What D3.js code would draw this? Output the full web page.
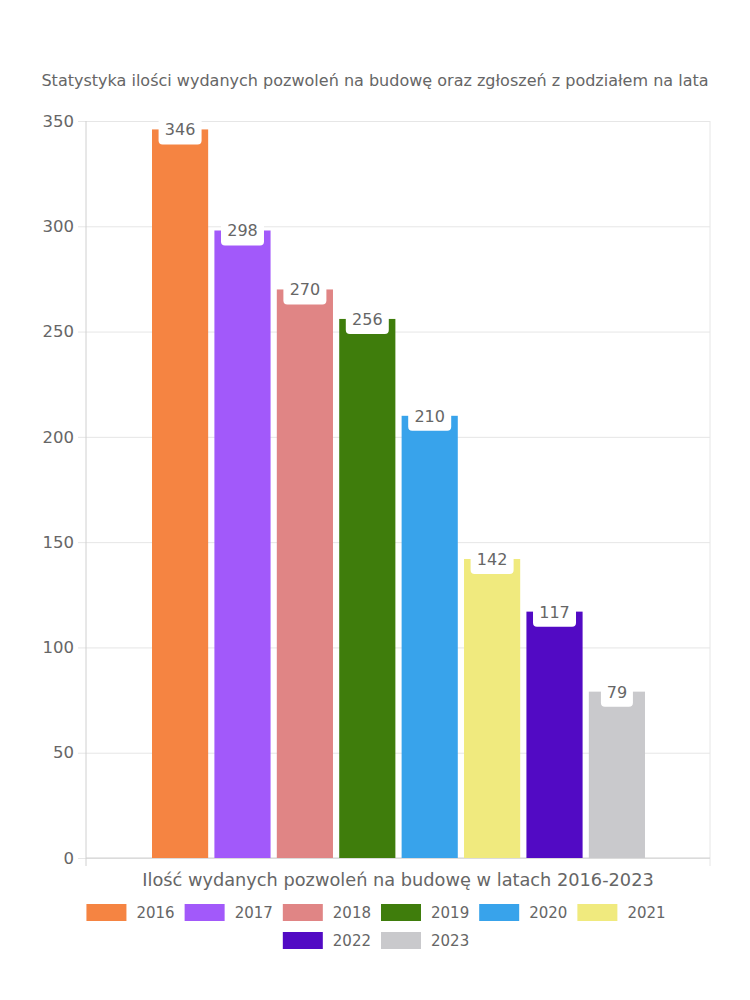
<!DOCTYPE html>
<html><head><meta charset="utf-8">
<script src="https://cdn.jsdelivr.net/npm/d3@7"></script>
<style>body{margin:0;background:#fff}svg{display:block}</style>
</head><body>
<svg id="c" width="750" height="1000"></svg>
<script>
const title = "Statystyka ilości wydanych pozwoleń na budowę oraz zgłoszeń z podziałem na lata";
const xTitle = "Ilość wydanych pozwoleń na budowę w latach 2016-2023";
const years = ["2016","2017","2018","2019","2020","2021","2022","2023"];
const values = [346, 298, 270, 256, 210, 142, 117, 79];
const colors = ["#F58442","#A259FA","#E08585","#3F7D0C","#38A3EB","#F0EA7E","#520AC4","#C9C9CC"];
const yTicks = [0,50,100,150,200,250,300,350];

const FONT = "'DejaVu Sans', sans-serif";
const TXT = "#666";
const svg = d3.select("#c");
const m = {l:86, r:710, t:121, b:858};

const y = d3.scaleLinear().domain([0,350]).range([m.b, m.t]);
const x = d3.scaleBand().domain(years).range([152, 645]).paddingInner(0.1).paddingOuter(0);

function fitText(sel, width) {
  const w = sel.node().getComputedTextLength();
  const fs = parseFloat(sel.attr("font-size"));
  sel.attr("font-size", fs * width / w);
}

// title
const tt = svg.append("text").attr("x", 375).attr("y", 86).attr("text-anchor","middle")
  .attr("font-family", FONT).attr("font-size", 15).attr("fill", TXT).text(title);
fitText(tt, 668);

// gridlines
const yAxis = d3.axisLeft(y).tickValues(yTicks).tickSize(-(m.r - m.l)).tickPadding(12);
const gy = svg.append("g").attr("transform", `translate(${m.l},0)`).call(yAxis);
gy.select(".domain").remove();
gy.selectAll(".tick line").attr("stroke", "#e6e6e6").attr("x1", -8);
gy.selectAll(".tick text").attr("font-family", FONT).attr("font-size", 16.5).attr("fill", TXT);

// axis lines
svg.append("line").attr("x1", m.l).attr("x2", m.l).attr("y1", m.t).attr("y2", m.b + 8).attr("stroke", "#d0d0d0");
svg.append("line").attr("x1", m.r).attr("x2", m.r).attr("y1", m.t).attr("y2", m.b + 8).attr("stroke", "#e6e6e6");
svg.append("line").attr("x1", m.l).attr("x2", m.r).attr("y1", m.b).attr("y2", m.b).attr("stroke", "#d0d0d0");

// bars
svg.append("g").selectAll("rect").data(values).join("rect")
  .attr("x", (d,i) => x(years[i])).attr("width", x.bandwidth())
  .attr("y", d => y(d)).attr("height", d => y(0) - y(d))
  .attr("fill", (d,i) => colors[i]);

// labels
const lg = svg.append("g").selectAll("g").data(values).join("g")
  .attr("transform", (d,i) => `translate(${x(years[i]) + x.bandwidth()/2},${y(d)})`);
lg.append("rect").attr("x", d => d >= 100 ? -21.5 : -16).attr("width", d => d >= 100 ? 43 : 32)
  .attr("y", -15).attr("height", 30).attr("rx", 4).attr("fill", "#fff");
lg.append("text").attr("text-anchor","middle").attr("y", 6)
  .attr("font-family", FONT).attr("font-size", 16).attr("fill", TXT).text(d => d);

// x title
const xt = svg.append("text").attr("x", (m.l + m.r)/2).attr("y", 886).attr("text-anchor","middle")
  .attr("font-family", FONT).attr("font-size", 16).attr("fill", TXT).text(xTitle);
fitText(xt, 512);

// legend
const rows = [years.slice(0,6), years.slice(6)];
const rowY = [912, 940];
rows.forEach((row, ri) => {
  const g = svg.append("g");
  let cx = 0;
  const items = [];
  row.forEach(yr => {
    const t = g.append("text").attr("font-family", FONT).attr("font-size", 15).attr("fill", TXT).text(yr);
    const w = t.node().getComputedTextLength();
    items.push({yr, t, w, x: cx});
    cx += 40 + 10 + w + 10;
  });
  const total = cx - 10;
  const x0 = 376 - total/2;
  items.forEach(it => {
    const i = years.indexOf(it.yr);
    g.append("rect").attr("x", x0 + it.x).attr("y", rowY[ri] - 8).attr("width", 40).attr("height", 17).attr("fill", colors[i]);
    it.t.attr("x", x0 + it.x + 50).attr("y", rowY[ri] + 6);
  });
});
</script>
</body></html>
